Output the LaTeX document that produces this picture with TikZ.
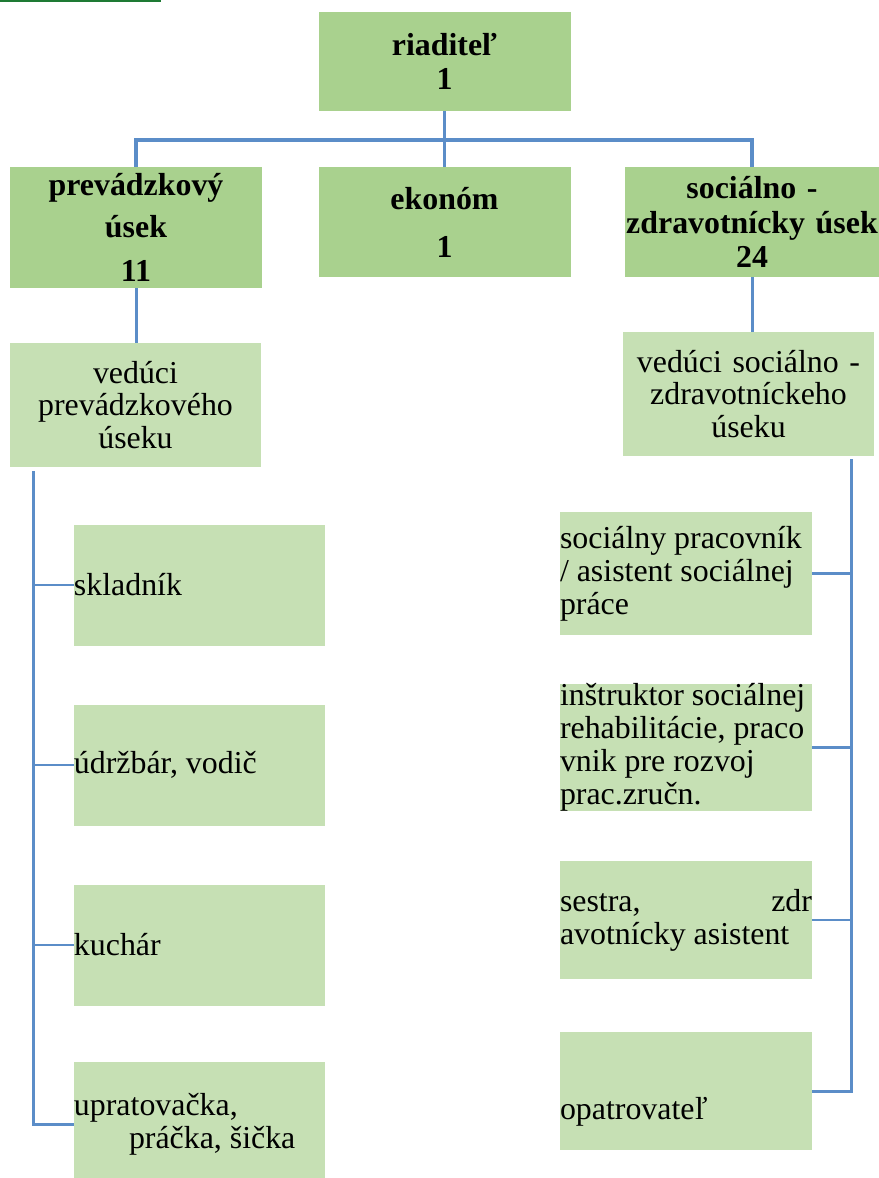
\documentclass[tikz,border=0pt]{standalone}
\usepackage{fontspec}
\setmainfont{Liberation Serif}
\usepackage{xcolor}

\definecolor{headgreen}{RGB}{169,209,142}
\definecolor{leafgreen}{RGB}{198,224,180}
\definecolor{linkblue}{RGB}{91,141,200}
\definecolor{rulegreen}{RGB}{30,122,52}

\begin{document}
\begin{tikzpicture}[x=1bp, y=-1bp,
    head/.style={fill=headgreen, inner sep=0pt, minimum width=252bp, text width=252bp,
        align=center, font=\fontsize{32}{35}\selectfont\bfseries},
    lead/.style={fill=leafgreen, inner sep=0pt, minimum width=251bp, minimum height=124bp,
        text width=251bp, align=center, font=\fontsize{32}{33}\selectfont},
    staff/.style={fill=leafgreen, inner sep=0pt, minimum width=252bp, minimum height=121bp,
        text width=252bp, align=flush left, font=\fontsize{32}{33}\selectfont},
    link/.style={draw=linkblue, line width=3bp}]
\clip (0,0) rectangle (879,1178);
\draw[rulegreen, line width=1.5bp] (0,0.75) -- (161,0.75);
% top levels
\node[head, minimum height=99bp] (dir) at (444.5,61.5) {riaditeľ\\1};
\node[head, minimum height=121bp] (prev) at (136,227.5) {prevádzkový\\[7bp]úsek\\[9bp]11};
\node[head, minimum height=110bp] (ekon) at (444.5,222) {ekonóm\\[13bp]1};
\node[head, minimum height=110bp, minimum width=254bp, text width=254bp] (soc) at (752,222)
    {sociálno -\\zdravotnícky úsek\\24};
\node[lead] (vp) at (135.5,405) {vedúci\\prevádzkového\\úseku};
\node[lead] (vs) at (748.5,394) {vedúci sociálno -\\zdravotníckeho\\úseku};
% left staff
\node[staff, minimum width=251bp, text width=251bp] (skl) at (199.5,585) {skladník};
\node[staff, minimum width=251bp, text width=251bp] (udr) at (199.5,765) {údržbár, vodič};
\node[staff, minimum width=251bp, text width=251bp] (kuch) at (199.5,945) {kuchár};
\node[staff, minimum width=251bp, text width=251bp, minimum height=124bp] (upr) at (199.5,1124)
    {upratovačka,\\\hspace*{55bp}práčka, šička};
% right staff
\node[staff, minimum height=123bp] (socp) at (686,573.5) {sociálny pracovník\\/ asistent sociálnej\\práce};
\node[staff, minimum height=119bp] (instr) at (686,747.5)
    {inštruktor sociálnej\\rehabilitácie, praco\\vnik pre rozvoj\\prac.zručn.};
\node[staff, minimum height=118bp] (sest) at (686,920) {sestra,\hfill zdr\\avotnícky asistent};
\node[staff, minimum height=118bp] (opat) at (686,1091) {\smash{\raisebox{-28bp}{opatrovateľ}}};
% connectors
\coordinate (hub) at (444.5,140);
\draw[link, line width=3.5bp] (dir.south) -- (ekon.north);
\draw[link, line width=3.5bp] (prev.north) |- (hub) -| (soc.north);
\draw[link] (prev.south) -- (prev.south |- vp.north);
\draw[link] (soc.south) -- (soc.south |- vs.north);
\coordinate (lbus) at ([xshift=24bp, yshift=-4bp]vp.south west);
\draw[link] (lbus) |- (upr.west);
\foreach \n in {skl,udr,kuch}
    \draw[link, line width=2.5bp] (lbus |- \n.west) -- (\n.west);
\coordinate (rbus) at ([xshift=-23bp, yshift=-3bp]vs.south east);
\draw[link] (rbus) |- (opat.east);
\foreach \n in {socp,instr,sest}
    \draw[link, line width=2.5bp] (\n.east) -- (rbus |- \n.east);
\end{tikzpicture}
\end{document}
